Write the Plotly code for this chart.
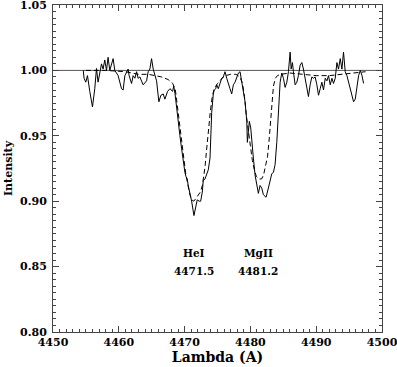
import plotly.graph_objects as go

# observed spectrum (solid)
wave_obs = [4454.6, 4454.72, 4454.98, 4455.24, 4455.59, 4456.0, 4456.35, 4456.61, 4456.85, 4457.11,
            4457.37, 4457.61, 4457.87, 4458.13, 4458.37, 4458.63, 4459.14, 4459.39, 4459.9, 4460.41,
            4460.66, 4460.92, 4461.17, 4461.42, 4461.57, 4461.94, 4462.18, 4462.44, 4462.7, 4462.94,
            4463.2, 4463.7, 4464.22, 4464.46, 4464.72, 4464.98, 4465.23, 4465.49, 4465.74, 4466.09,
            4466.4, 4466.75, 4467.0, 4467.42, 4467.77, 4468.18, 4468.35, 4468.55, 4468.79, 4469.03,
            4469.29, 4469.55, 4469.79, 4470.05, 4470.2, 4470.4, 4470.55, 4470.81, 4471.07, 4471.42,
            4471.73, 4471.92, 4472.23, 4472.44, 4472.69, 4472.84, 4473.1, 4473.36, 4473.6, 4473.86,
            4473.96, 4474.12, 4474.36, 4474.51, 4474.73, 4474.88, 4475.12, 4475.38, 4475.64, 4475.88,
            4476.14, 4476.4, 4476.64, 4476.9, 4477.16, 4477.41, 4477.67, 4477.92, 4478.17, 4478.43,
            4478.68, 4478.93, 4479.19, 4479.45, 4479.54, 4479.69, 4479.84, 4480.05, 4480.21, 4480.45,
            4480.71, 4480.97, 4481.21, 4481.47, 4481.73, 4481.97, 4482.38, 4482.73, 4482.99, 4483.25,
            4483.5, 4483.75, 4484.01, 4484.26, 4484.52, 4484.77, 4485.02, 4485.28, 4485.54, 4485.78,
            4485.93, 4486.04, 4486.19, 4486.39, 4486.54, 4486.8, 4487.06, 4487.3, 4487.56, 4487.82,
            4488.06, 4488.32, 4488.58, 4488.82, 4489.08, 4489.34, 4489.59, 4489.84, 4490.1, 4490.35,
            4490.61, 4490.86, 4491.11, 4491.37, 4491.63, 4491.87, 4492.13, 4492.39, 4492.63, 4492.89,
            4493.15, 4493.39, 4493.65, 4493.91, 4494.15, 4494.41, 4494.67, 4494.91, 4495.17, 4495.43,
            4495.68, 4495.93, 4496.19, 4496.44, 4496.7, 4496.96, 4497.2]
flux_obs = [1.000, 0.994, 0.991, 0.996, 0.984, 0.972, 0.986, 1.0015, 0.991, 0.999,
            1.005, 1.001, 1.008, 1.000, 1.010, 1.000, 1.009, 1.000, 0.996, 0.986,
            0.985, 0.996, 0.999, 1.001, 0.996, 0.990, 0.996, 0.994, 0.999, 0.994,
            0.995, 0.989, 0.992, 0.999, 1.001, 1.009, 1.001, 0.996, 0.992, 0.976,
            0.981, 0.982, 0.978, 0.984, 0.986, 0.984, 0.988, 0.982, 0.970, 0.961,
            0.950, 0.940, 0.930, 0.922, 0.919, 0.917, 0.912, 0.907, 0.900, 0.889,
            0.898, 0.901, 0.900, 0.900, 0.907, 0.916, 0.917, 0.920, 0.924, 0.933,
            0.948, 0.968, 0.982, 0.985, 0.986, 0.989, 0.986, 0.990, 0.994, 0.995,
            0.999, 0.994, 0.989, 0.986, 0.982, 0.989, 0.991, 0.994, 0.998, 0.999,
            0.991, 0.986, 0.976, 0.961, 0.945, 0.953, 0.961, 0.956, 0.945, 0.933,
            0.920, 0.914, 0.906, 0.912, 0.910, 0.905, 0.903, 0.910, 0.917, 0.921,
            0.922, 0.928, 0.945, 0.971, 0.991, 0.998, 0.994, 0.987, 0.991, 0.999,
            1.009, 1.014, 1.001, 1.006, 0.999, 0.989, 0.991, 0.996, 1.004, 1.006,
            1.001, 0.994, 0.986, 0.980, 0.989, 0.995, 0.994, 0.995, 0.989, 0.981,
            0.986, 0.991, 0.985, 0.994, 0.992, 0.996, 0.989, 0.994, 0.990, 0.994,
            1.006, 1.001, 1.009, 1.001, 1.014, 0.999, 0.996, 0.991, 0.986, 0.980,
            0.976, 0.978, 0.989, 0.996, 1.000, 0.996, 0.990]

# model profile (dashed)
wave_mod = [4455.0, 4458.0, 4461.0, 4463.0, 4464.5, 4465.5, 4466.5, 4467.5, 4468.2, 4468.6,
            4469.0, 4469.3, 4469.6, 4469.9, 4470.2, 4470.5, 4470.8, 4471.1, 4471.4, 4471.7,
            4472.0, 4472.4, 4472.7, 4472.9, 4473.1, 4473.3, 4473.6, 4473.9, 4474.2, 4474.5,
            4475.0, 4475.5, 4476.2, 4477.0, 4477.8, 4478.4, 4478.8, 4479.1, 4479.4, 4479.7,
            4480.0, 4480.3, 4480.6, 4480.9, 4481.3, 4481.7, 4482.0, 4482.3, 4482.6, 4482.8,
            4483.0, 4483.3, 4483.5, 4483.8, 4484.1, 4484.6, 4486.0, 4488.0, 4490.0, 4492.0,
            4494.0, 4496.0, 4497.5]
flux_mod = [1.000, 1.000, 0.999, 0.997, 0.997, 0.996, 0.995, 0.993, 0.990, 0.985,
            0.970, 0.957, 0.944, 0.932, 0.920, 0.911, 0.905, 0.901, 0.900, 0.902,
            0.904, 0.907, 0.912, 0.918, 0.926, 0.937, 0.954, 0.968, 0.980, 0.986,
            0.990, 0.993, 0.996, 0.997, 0.997, 0.995, 0.990, 0.980, 0.965, 0.952,
            0.941, 0.931, 0.924, 0.919, 0.917, 0.917, 0.920, 0.926, 0.934, 0.944,
            0.958, 0.975, 0.988, 0.994, 0.996, 0.997, 0.998, 0.997, 0.996, 0.996,
            0.997, 0.998, 0.999]

continuum = 1.0
line_names = ["HeI", "MgII"]
line_waves = [4471.5, 4481.2]
x_range = [4450, 4500]
y_range = [0.80, 1.05]
x_ticks = [4450, 4460, 4470, 4480, 4490, 4500]
y_ticks = [0.80, 0.85, 0.90, 0.95, 1.00, 1.05]

FONT = "DejaVu Serif"
AXIS_COLOR = "#444444"

fig = go.Figure()

fig.add_trace(go.Scatter(x=x_range, y=[continuum, continuum], mode="lines",
                         line=dict(color="#555555", width=1), hoverinfo="skip"))
fig.add_trace(go.Scatter(x=wave_mod, y=flux_mod, mode="lines",
                         line=dict(color="black", width=1, dash="5px,3px")))
fig.add_trace(go.Scatter(x=wave_obs, y=flux_obs, mode="lines",
                         line=dict(color="black", width=1)))

# line identifications, centred on the rest wavelength
for name, wl in zip(line_names, line_waves):
    fig.add_annotation(x=wl, y=0.8603, text=name, showarrow=False,
                       font=dict(family=FONT, size=10.5, color="black", weight="bold"))
    fig.add_annotation(x=wl, y=0.8466, text=f"{wl:.1f}", showarrow=False,
                       font=dict(family=FONT, size=10.5, color="black", weight="bold"))

axis_common = dict(
    showgrid=False, zeroline=False, automargin=False,
    showline=True, linecolor=AXIS_COLOR, linewidth=1, mirror="ticks",
    ticks="inside", ticklen=6, tickcolor=AXIS_COLOR,
    ticklabeloverflow="allow",
    tickfont=dict(family=FONT, size=11, color="black", weight="bold"),
)

fig.update_layout(
    width=397, height=367,
    paper_bgcolor="white", plot_bgcolor="white",
    showlegend=False,
    margin=dict(l=53, r=15, t=5, b=35),
    xaxis=dict(range=x_range, tickvals=x_ticks,
               minor=dict(dtick=1, ticks="inside", ticklen=3, tickcolor=AXIS_COLOR),
               title=dict(text="Lambda (A)", standoff=2,
                          font=dict(family=FONT, size=14, color="black", weight="bold")),
               **axis_common),
    yaxis=dict(range=y_range, tickvals=y_ticks, tickformat=".2f", ticklabelstandoff=3,
               minor=dict(dtick=0.005, ticks="inside", ticklen=3, tickcolor=AXIS_COLOR),
               title=dict(text="Intensity", standoff=5,
                          font=dict(family=FONT, size=11, color="black", weight="bold")),
               **axis_common),
)

fig.write_html("out.html", config={"displayModeBar": False},
               post_script="document.body.style.margin='0px';")
